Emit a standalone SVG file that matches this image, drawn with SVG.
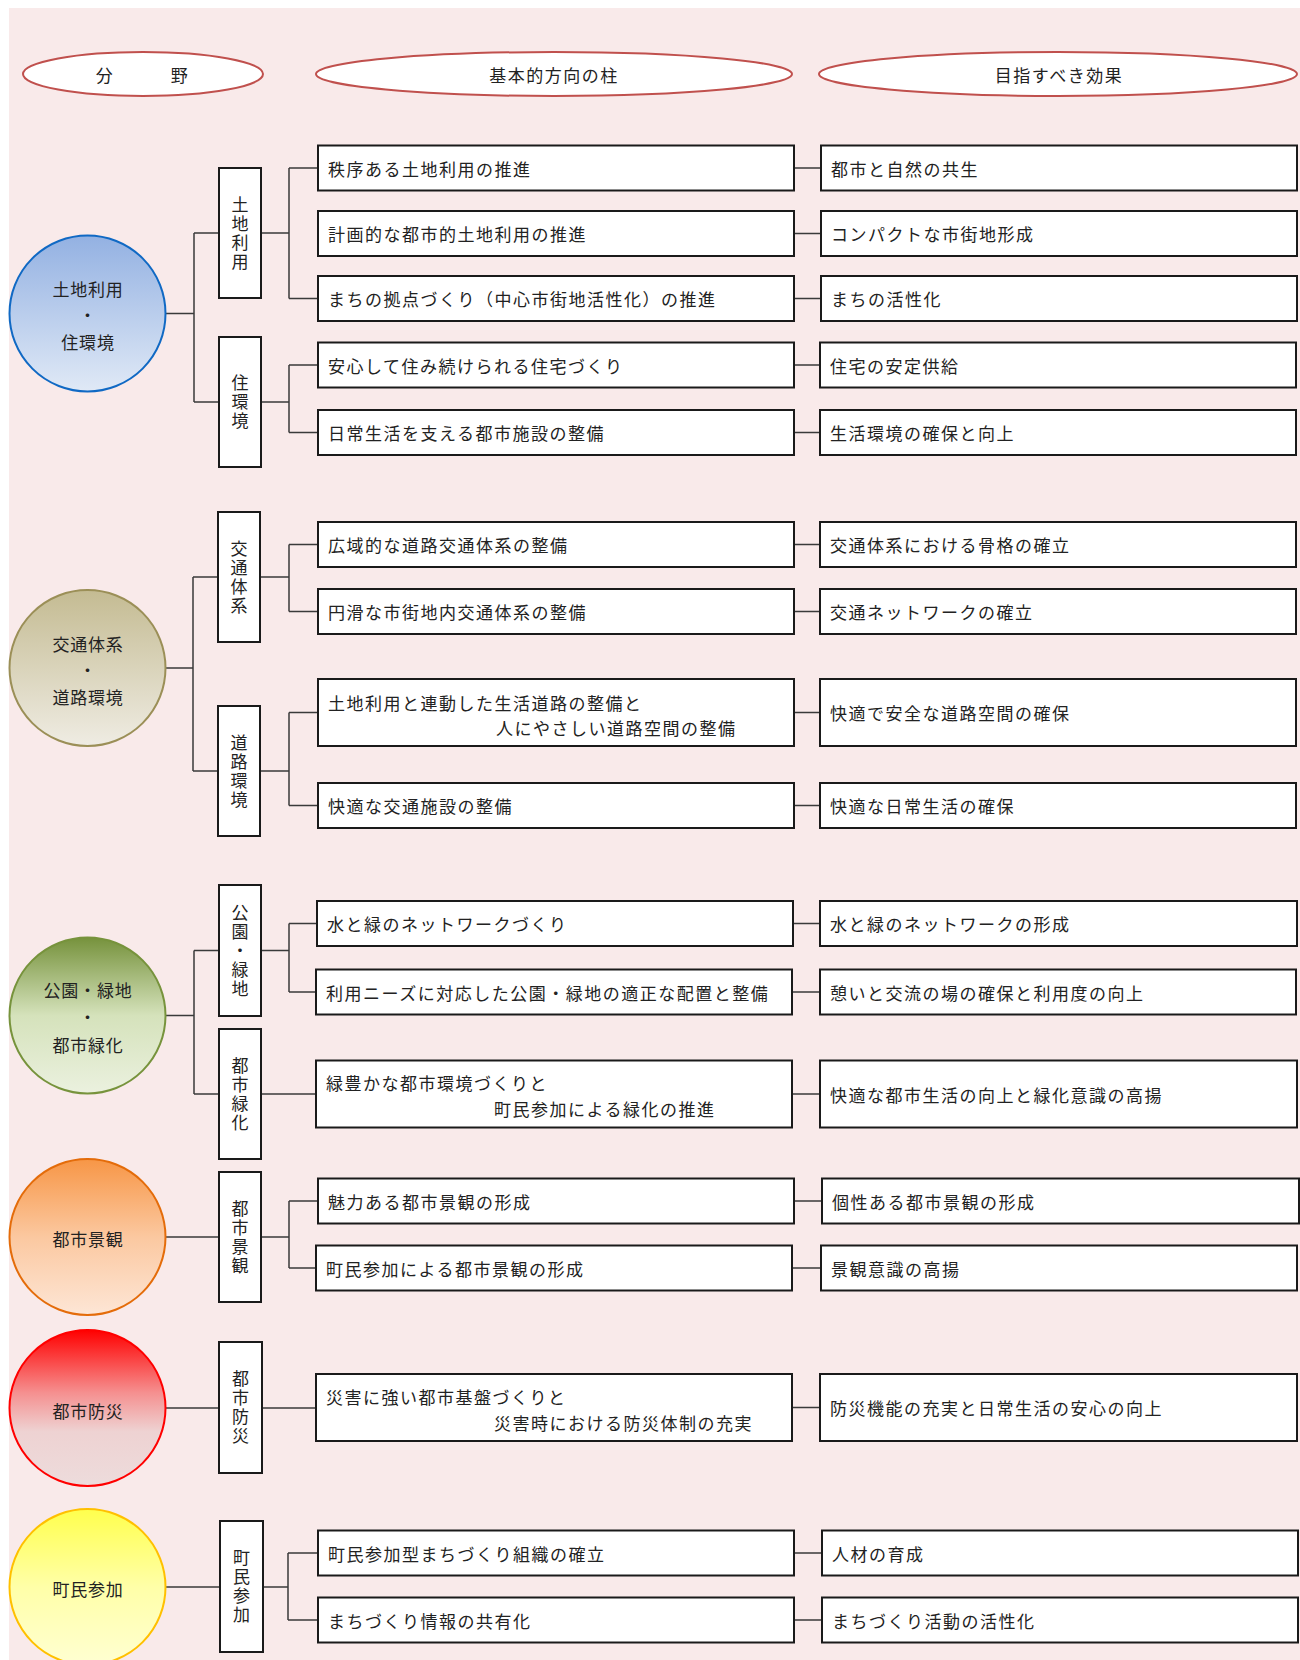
<svg xmlns="http://www.w3.org/2000/svg" width="1300" height="1660" viewBox="0 0 1300 1660">
<style>
.bg{fill:#f9eaea}
.hdr{fill:#fff;stroke:#c0504d;stroke-width:2}
.box{fill:#fff;stroke:#1a1a1a;stroke-width:2}
.t{font-family:"Noto Sans CJK JP","Noto Sans CJK SC",sans-serif;font-size:17px;letter-spacing:1.5px;fill:#222}
.ct{font-family:"Noto Sans CJK JP","Noto Sans CJK SC",sans-serif;font-size:17px;letter-spacing:0.8px;fill:#222;text-anchor:middle}
.vt{font-family:"Noto Sans CJK JP","Noto Sans CJK SC",sans-serif;font-size:17px;letter-spacing:2px;fill:#222;text-anchor:middle;writing-mode:vertical-rl}
.m{text-anchor:middle}
#connectors path{fill:none;stroke:#3a3a3a;stroke-width:1.5}
</style>
<defs>
<linearGradient id="gBlue" x1="0" y1="0" x2="0" y2="1"><stop offset="0" stop-color="#93b1e2"/><stop offset="1" stop-color="#e0e9f6"/></linearGradient>
<linearGradient id="gOlive" x1="0" y1="0" x2="0" y2="1"><stop offset="0" stop-color="#c4bb92"/><stop offset="1" stop-color="#efece3"/></linearGradient>
<linearGradient id="gGreen" x1="0" y1="0" x2="0" y2="1"><stop offset="0" stop-color="#76923c"/><stop offset="0.5" stop-color="#d5e2bb"/><stop offset="1" stop-color="#ebf1df"/></linearGradient>
<linearGradient id="gOrange" x1="0" y1="0" x2="0" y2="1"><stop offset="0" stop-color="#f79646"/><stop offset="0.5" stop-color="#fbc8a0"/><stop offset="1" stop-color="#fde6d6"/></linearGradient>
<linearGradient id="gRed" x1="0" y1="0" x2="0" y2="1"><stop offset="0" stop-color="#ff0000"/><stop offset="0.4" stop-color="#f58f8f"/><stop offset="0.65" stop-color="#eed2d2"/><stop offset="1" stop-color="#eddcdc"/></linearGradient>
<linearGradient id="gYellow" x1="0" y1="0" x2="0" y2="1"><stop offset="0" stop-color="#ffff4d"/><stop offset="0.5" stop-color="#ffffa8"/><stop offset="1" stop-color="#ffffd2"/></linearGradient>
</defs>
<rect class="bg" x="9" y="8" width="1291" height="1652"/>

<g id="header-field"><ellipse class="hdr" cx="143" cy="74" rx="120" ry="22"/><text class="t m" y="82"><tspan x="105">分</tspan><tspan x="180">野</tspan></text></g>
<g id="header-pillar"><ellipse class="hdr" cx="554" cy="74" rx="238" ry="22"/><text class="t m" x="554" y="82">基本的方向の柱</text></g>
<g id="header-effect"><ellipse class="hdr" cx="1058" cy="74" rx="239" ry="22"/><text class="t m" x="1059" y="82">目指すべき効果</text></g>

<g id="connectors">
<path d="M166 313.5H194M194 233V402M194 233H219M194 402H219"/>
<path d="M261 233H289M289 168V298.5M289 168H318M289 298.5H318"/>
<path d="M261 402H289M289 365V432.5M289 365H318M289 432.5H318"/>
<path d="M794 168H821M794 233.5H821M794 298.5H821M794 365H821M794 432.5H821"/>
<path d="M166 668H193M193 577V771M193 577H218M193 771H218"/>
<path d="M260 577H289M289 544.5V611.5M289 544.5H318M289 611.5H318"/>
<path d="M260 771H289M289 712.5V805.5M289 712.5H318M289 805.5H318"/>
<path d="M794 544.5H820M794 611.5H820M794 712.5H820M794 805.5H820"/>
<path d="M166 1015.5H194M194 950.5V1094M194 950.5H219M194 1094H219"/>
<path d="M261 950.5H289M289 923.5V992M289 923.5H317M289 992H316"/>
<path d="M261 1094H316"/>
<path d="M793 923.5H820M792 992H820M792 1094H820"/>
<path d="M166 1237H219M261 1237H289M289 1201V1268M289 1201H318M289 1268H316"/>
<path d="M794 1201H822M792 1268H821"/>
<path d="M166 1408H219M262 1408H316M792 1407.5H820"/>
<path d="M166 1587H220M263 1587H288M288 1553V1620M288 1553H318M288 1620H318"/>
<path d="M794 1553H822M794 1620H822"/>
</g>

<g id="field-landuse"><circle cx="87.5" cy="313.5" r="78" fill="url(#gBlue)" stroke="#1069c4" stroke-width="2"/><text class="ct" x="88" y="296">土地利用</text><text class="ct" x="88" y="321.5">・</text><text class="ct" x="88" y="349">住環境</text></g>
<g id="field-traffic"><circle cx="87.5" cy="668" r="78" fill="url(#gOlive)" stroke="#9b8f57" stroke-width="2"/><text class="ct" x="88" y="651">交通体系</text><text class="ct" x="88" y="676.5">・</text><text class="ct" x="88" y="703.5">道路環境</text></g>
<g id="field-park"><circle cx="87.5" cy="1015.5" r="78" fill="url(#gGreen)" stroke="#77933c" stroke-width="2"/><text class="ct" x="88" y="997">公園・緑地</text><text class="ct" x="88" y="1023.5">・</text><text class="ct" x="88" y="1051.5">都市緑化</text></g>
<g id="field-landscape"><circle cx="87.5" cy="1237" r="78" fill="url(#gOrange)" stroke="#e46c0a" stroke-width="2"/><text class="ct" x="88" y="1246">都市景観</text></g>
<g id="field-disaster"><circle cx="87.5" cy="1408" r="78" fill="url(#gRed)" stroke="#ff0000" stroke-width="2"/><text class="ct" x="88" y="1417.5">都市防災</text></g>
<g id="field-participation"><circle cx="87.5" cy="1587" r="78" fill="url(#gYellow)" stroke="#ffc000" stroke-width="2"/><text class="ct" x="88" y="1596">町民参加</text></g>

<g id="cat-tochiriyou"><rect class="box" x="219" y="168" width="42" height="130"/><text class="vt" x="240" y="234">土地利用</text></g>
<g id="cat-jukankyo"><rect class="box" x="219" y="337" width="42" height="130"/><text class="vt" x="240" y="403">住環境</text></g>
<g id="cat-kotsutaikei"><rect class="box" x="218" y="512" width="42" height="130"/><text class="vt" x="239" y="578">交通体系</text></g>
<g id="cat-dorokankyo"><rect class="box" x="218" y="706" width="42" height="130"/><text class="vt" x="239" y="772">道路環境</text></g>
<g id="cat-koenryokuchi"><rect class="box" x="219" y="885" width="42" height="131"/><text class="vt" x="240" y="951.5">公園・緑地</text></g>
<g id="cat-toshiryokka"><rect class="box" x="219" y="1029" width="42" height="130"/><text class="vt" x="240" y="1095">都市緑化</text></g>
<g id="cat-toshikeikan"><rect class="box" x="219" y="1172" width="42" height="130"/><text class="vt" x="240" y="1238">都市景観</text></g>
<g id="cat-toshibosai"><rect class="box" x="219" y="1342" width="43" height="131"/><text class="vt" x="240.5" y="1408.5">都市防災</text></g>
<g id="cat-choumin"><rect class="box" x="220" y="1521" width="43" height="131"/><text class="vt" x="241.5" y="1587.5">町民参加</text></g>

<g id="act-1"><rect class="box" x="318" y="145.5" width="476" height="45"/><text class="t" x="328" y="175.5">秩序ある土地利用の推進</text></g>
<g id="act-2"><rect class="box" x="318" y="211" width="476" height="45"/><text class="t" x="328" y="241">計画的な都市的土地利用の推進</text></g>
<g id="act-3"><rect class="box" x="318" y="276" width="476" height="45"/><text class="t" x="328" y="306">まちの拠点づくり（中心市街地活性化）の推進</text></g>
<g id="act-4"><rect class="box" x="318" y="342.5" width="476" height="45"/><text class="t" x="328" y="372.5">安心して住み続けられる住宅づくり</text></g>
<g id="act-5"><rect class="box" x="318" y="410" width="476" height="45"/><text class="t" x="328" y="440">日常生活を支える都市施設の整備</text></g>
<g id="act-6"><rect class="box" x="318" y="522" width="476" height="45"/><text class="t" x="328" y="552">広域的な道路交通体系の整備</text></g>
<g id="act-7"><rect class="box" x="318" y="589" width="476" height="45"/><text class="t" x="328" y="619">円滑な市街地内交通体系の整備</text></g>
<g id="act-8"><rect class="box" x="318" y="679" width="476" height="67"/><text class="t" x="328" y="709.5">土地利用と連動した生活道路の整備と</text><text class="t" x="496" y="734.5">人にやさしい道路空間の整備</text></g>
<g id="act-9"><rect class="box" x="318" y="783" width="476" height="45"/><text class="t" x="328" y="813">快適な交通施設の整備</text></g>
<g id="act-10"><rect class="box" x="317" y="901" width="476" height="45"/><text class="t" x="327" y="931">水と緑のネットワークづくり</text></g>
<g id="act-11"><rect class="box" x="316" y="969.5" width="476" height="45"/><text class="t" x="326" y="999.5">利用ニーズに対応した公園・緑地の適正な配置と整備</text></g>
<g id="act-12"><rect class="box" x="316" y="1060.5" width="476" height="67"/><text class="t" x="326" y="1090">緑豊かな都市環境づくりと</text><text class="t" x="494" y="1116">町民参加による緑化の推進</text></g>
<g id="act-13"><rect class="box" x="318" y="1178.5" width="476" height="45"/><text class="t" x="328" y="1208.5">魅力ある都市景観の形成</text></g>
<g id="act-14"><rect class="box" x="316" y="1245.5" width="476" height="45"/><text class="t" x="326" y="1275.5">町民参加による都市景観の形成</text></g>
<g id="act-15"><rect class="box" x="316" y="1374" width="476" height="67"/><text class="t" x="326" y="1403.5">災害に強い都市基盤づくりと</text><text class="t" x="494" y="1429.5">災害時における防災体制の充実</text></g>
<g id="act-16"><rect class="box" x="318" y="1530.5" width="476" height="45"/><text class="t" x="328" y="1560.5">町民参加型まちづくり組織の確立</text></g>
<g id="act-17"><rect class="box" x="318" y="1597.5" width="476" height="45"/><text class="t" x="328" y="1627.5">まちづくり情報の共有化</text></g>

<g id="eff-1"><rect class="box" x="821" y="145.5" width="476" height="45"/><text class="t" x="831" y="175.5">都市と自然の共生</text></g>
<g id="eff-2"><rect class="box" x="821" y="211" width="476" height="45"/><text class="t" x="831" y="241">コンパクトな市街地形成</text></g>
<g id="eff-3"><rect class="box" x="821" y="276" width="476" height="45"/><text class="t" x="831" y="306">まちの活性化</text></g>
<g id="eff-4"><rect class="box" x="820" y="342.5" width="476" height="45"/><text class="t" x="830" y="372.5">住宅の安定供給</text></g>
<g id="eff-5"><rect class="box" x="820" y="410" width="476" height="45"/><text class="t" x="830" y="440">生活環境の確保と向上</text></g>
<g id="eff-6"><rect class="box" x="820" y="522" width="476" height="45"/><text class="t" x="830" y="552">交通体系における骨格の確立</text></g>
<g id="eff-7"><rect class="box" x="820" y="589" width="476" height="45"/><text class="t" x="830" y="619">交通ネットワークの確立</text></g>
<g id="eff-8"><rect class="box" x="820" y="679" width="476" height="67"/><text class="t" x="830" y="720">快適で安全な道路空間の確保</text></g>
<g id="eff-9"><rect class="box" x="820" y="783" width="476" height="45"/><text class="t" x="830" y="813">快適な日常生活の確保</text></g>
<g id="eff-10"><rect class="box" x="820" y="901" width="477" height="45"/><text class="t" x="830" y="931">水と緑のネットワークの形成</text></g>
<g id="eff-11"><rect class="box" x="820" y="969.5" width="476" height="45"/><text class="t" x="830" y="999.5">憩いと交流の場の確保と利用度の向上</text></g>
<g id="eff-12"><rect class="box" x="820" y="1060.5" width="477" height="67"/><text class="t" x="830" y="1101.5">快適な都市生活の向上と緑化意識の高揚</text></g>
<g id="eff-13"><rect class="box" x="822" y="1178.5" width="477" height="45"/><text class="t" x="832" y="1208.5">個性ある都市景観の形成</text></g>
<g id="eff-14"><rect class="box" x="821" y="1245.5" width="476" height="45"/><text class="t" x="831" y="1275.5">景観意識の高揚</text></g>
<g id="eff-15"><rect class="box" x="820" y="1374" width="477" height="67"/><text class="t" x="830" y="1415">防災機能の充実と日常生活の安心の向上</text></g>
<g id="eff-16"><rect class="box" x="822" y="1530.5" width="476" height="45"/><text class="t" x="832" y="1560.5">人材の育成</text></g>
<g id="eff-17"><rect class="box" x="822" y="1597.5" width="476" height="45"/><text class="t" x="832" y="1627.5">まちづくり活動の活性化</text></g>
</svg>
